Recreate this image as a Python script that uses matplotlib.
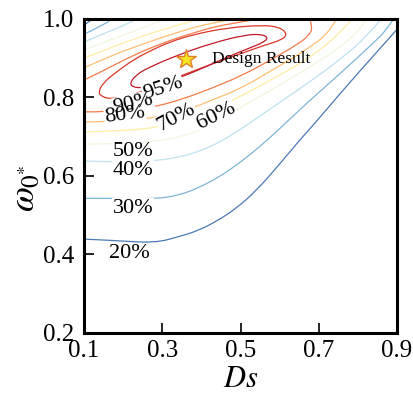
import matplotlib.pyplot as plt
from matplotlib import colors
from matplotlib.path import Path
from matplotlib.patches import PathPatch

plt.rcParams['font.family'] = 'serif'
plt.rcParams['font.serif'] = ['Liberation Serif', 'DejaVu Serif']
plt.rcParams['mathtext.fontset'] = 'stix'

# efficiency contour levels (%), each traced as Ds / omega0* points
levels = [20, 30, 40, 50, 60, 70, 80, 90, 95]

c20_ds = [0.100, 0.171, 0.281, 0.345, 0.390, 0.440, 0.490, 0.540, 0.600, 0.651, 0.697, 0.753, 0.837, 0.876, 0.898]
c20_w = [0.439, 0.436, 0.429, 0.446, 0.460, 0.485, 0.518, 0.562, 0.630, 0.691, 0.742, 0.808, 0.903, 0.946, 0.971]
c20_top_ds = [0.100, 0.123]
c20_top_w = [0.984, 1.000]

c30_ds = [0.100, 0.171, 0.281, 0.345, 0.400, 0.450, 0.500, 0.550, 0.600, 0.669, 0.753, 0.837, 0.873, 0.891]
c30_w = [0.543, 0.543, 0.541, 0.551, 0.573, 0.600, 0.635, 0.675, 0.720, 0.785, 0.859, 0.936, 0.971, 1.000]
c30_top_ds = [0.100, 0.141, 0.174]
c30_top_w = [0.961, 0.979, 1.000]

c40_ds = [0.100, 0.171, 0.281, 0.345, 0.400, 0.450, 0.500, 0.550, 0.600, 0.669, 0.753, 0.822, 0.860]
c40_w = [0.638, 0.635, 0.638, 0.648, 0.664, 0.688, 0.718, 0.753, 0.787, 0.834, 0.895, 0.954, 1.000]
c40_top_ds = [0.100, 0.154, 0.205, 0.235]
c40_top_w = [0.941, 0.964, 0.984, 1.000]

c50_ds = [0.100, 0.171, 0.294, 0.353, 0.404, 0.447, 0.498, 0.582, 0.669, 0.753, 0.804, 0.824]
c50_w = [0.681, 0.681, 0.689, 0.701, 0.719, 0.742, 0.773, 0.821, 0.872, 0.926, 0.971, 1.000]
c50_top_ds = [0.100, 0.166, 0.243, 0.307]
c50_top_w = [0.921, 0.946, 0.974, 1.000]

c60_ds = [0.100, 0.192, 0.294, 0.370, 0.437, 0.498, 0.582, 0.669, 0.745, 0.786]
c60_w = [0.712, 0.714, 0.724, 0.745, 0.773, 0.801, 0.847, 0.895, 0.954, 1.000]
c60_top_ds = [0.100, 0.166, 0.243, 0.332, 0.396]
c60_top_w = [0.900, 0.926, 0.954, 0.982, 1.000]

c70_ds = [0.100, 0.192, 0.294, 0.370, 0.434, 0.498, 0.582, 0.669, 0.728, 0.745]
c70_w = [0.737, 0.739, 0.750, 0.770, 0.796, 0.821, 0.870, 0.921, 0.966, 1.000]
c70_top_ds = [0.100, 0.166, 0.243, 0.332, 0.421, 0.485]
c70_top_w = [0.875, 0.905, 0.933, 0.964, 0.989, 1.000]

c80_ds = [0.100, 0.166, 0.268, 0.345, 0.429, 0.511, 0.582, 0.643, 0.677, 0.684, 0.677]
c80_w = [0.763, 0.763, 0.773, 0.793, 0.824, 0.859, 0.898, 0.933, 0.959, 0.979, 1.000]
c80_top_ds = [0.100, 0.154, 0.217, 0.294, 0.383, 0.472, 0.554]
c80_top_w = [0.844, 0.870, 0.903, 0.936, 0.966, 0.989, 1.000]

c90_ds = [0.136, 0.151, 0.182, 0.225, 0.268, 0.319, 0.383, 0.467, 0.554, 0.600, 0.620, 0.605,
          0.562, 0.511, 0.427, 0.340, 0.268, 0.217, 0.171, 0.146, 0.136]
c90_w = [0.814, 0.839, 0.864, 0.895, 0.918, 0.941, 0.961, 0.977, 0.984, 0.979, 0.961, 0.946,
         0.933, 0.915, 0.885, 0.852, 0.824, 0.803, 0.796, 0.801, 0.814]

c95_ds = [0.217, 0.233, 0.263, 0.340, 0.427, 0.511, 0.554, 0.572, 0.554, 0.529, 0.467, 0.409,
          0.350, 0.294, 0.248, 0.225, 0.217]
c95_w = [0.836, 0.857, 0.875, 0.908, 0.938, 0.959, 0.961, 0.951, 0.938, 0.928, 0.903, 0.877,
         0.852, 0.834, 0.824, 0.826, 0.836]

design_ds = 0.360
design_w = 0.898

lines = [
    (20, c20_ds, c20_w), (20, c20_top_ds, c20_top_w),
    (30, c30_ds, c30_w), (30, c30_top_ds, c30_top_w),
    (40, c40_ds, c40_w), (40, c40_top_ds, c40_top_w),
    (50, c50_ds, c50_w), (50, c50_top_ds, c50_top_w),
    (60, c60_ds, c60_w), (60, c60_top_ds, c60_top_w),
    (70, c70_ds, c70_w), (70, c70_top_ds, c70_top_w),
    (80, c80_ds, c80_w), (80, c80_top_ds, c80_top_w),
    (90, c90_ds, c90_w),
    (95, c95_ds, c95_w),
]

# where the level labels sit (Ds, omega, rotation)
label_spots = {
    95: (0.302, 0.824, 18),
    90: (0.225, 0.783, 13),
    80: (0.205, 0.755, 7),
    70: (0.337, 0.750, 28),
    60: (0.437, 0.752, 26),
    50: (0.225, 0.661, 0),
    40: (0.225, 0.615, 0),
    30: (0.225, 0.518, 0),
    20: (0.215, 0.403, 0),
}


def smooth_path(xs, ys):
    # quadratic bezier through the midpoints, traced points used as controls
    pts = list(zip(xs, ys))
    closed = pts[0] == pts[-1]
    if closed:
        pts = pts[:-1]
        n = len(pts)
        mids = [((pts[i][0] + pts[(i + 1) % n][0]) / 2, (pts[i][1] + pts[(i + 1) % n][1]) / 2)
                for i in range(n)]
        verts = [mids[0]]
        codes = [Path.MOVETO]
        for i in range(1, n + 1):
            verts += [pts[i % n], mids[i % n]]
            codes += [Path.CURVE3, Path.CURVE3]
        return Path(verts, codes)
    if len(pts) < 3:
        return Path(pts)
    verts = [pts[0]]
    codes = [Path.MOVETO]
    for i in range(1, len(pts) - 1):
        if i < len(pts) - 2:
            end = ((pts[i][0] + pts[i + 1][0]) / 2, (pts[i][1] + pts[i + 1][1]) / 2)
        else:
            end = pts[-1]
        verts += [pts[i], end]
        codes += [Path.CURVE3, Path.CURVE3]
    return Path(verts, codes)


fig = plt.figure(figsize=(4.13, 4.01), dpi=100)
ax = fig.add_axes([0.2034, 0.1696, 0.7579, 0.7835])

cmap = plt.get_cmap('RdYlBu_r')
norm = colors.Normalize(10, 100)

for lev, xs, ys in lines:
    ax.add_patch(PathPatch(smooth_path(xs, ys), fill=False, edgecolor=cmap(norm(lev)),
                           lw=0.9, zorder=2))

# white patches first, so that stacked labels stay readable
for lev in levels:
    x, y, rot = label_spots[lev]
    ax.text(x, y, f'{lev}%', fontsize=16, ha='center', va='center', rotation=rot,
            color='none', bbox=dict(facecolor='white', edgecolor='none', pad=0.5), zorder=3)
for lev in levels:
    x, y, rot = label_spots[lev]
    ax.text(x, y, f'{lev}%', fontsize=16, ha='center', va='center', rotation=rot, zorder=3.5)

ax.plot(design_ds, design_w, marker='*', markersize=15, color='#f5e51f',
        markeredgecolor='#e0802a', markeredgewidth=1, zorder=4)
ax.text(0.427, design_w, 'Design Result', fontsize=12.5, va='center', zorder=4)

ax.set_xlim(0.1, 0.9)
ax.set_ylim(0.2, 1.0)
ax.set_xticks([0.1, 0.3, 0.5, 0.7, 0.9])
ax.set_yticks([0.2, 0.4, 0.6, 0.8, 1.0])
ax.tick_params(direction='in', length=7, width=1.2, labelsize=18)
ax.tick_params(axis='x', pad=5)
ax.tick_params(axis='y', pad=7)
for sp in ax.spines.values():
    sp.set_linewidth(2.2)

ax.set_xlabel('$Ds$', fontsize=22, labelpad=2)
ax.set_ylabel(r'$\omega_{0^{*}}$', fontsize=26)
ax.yaxis.set_label_coords(-0.135, 0.46)

fig.savefig('out.png', dpi=100)
